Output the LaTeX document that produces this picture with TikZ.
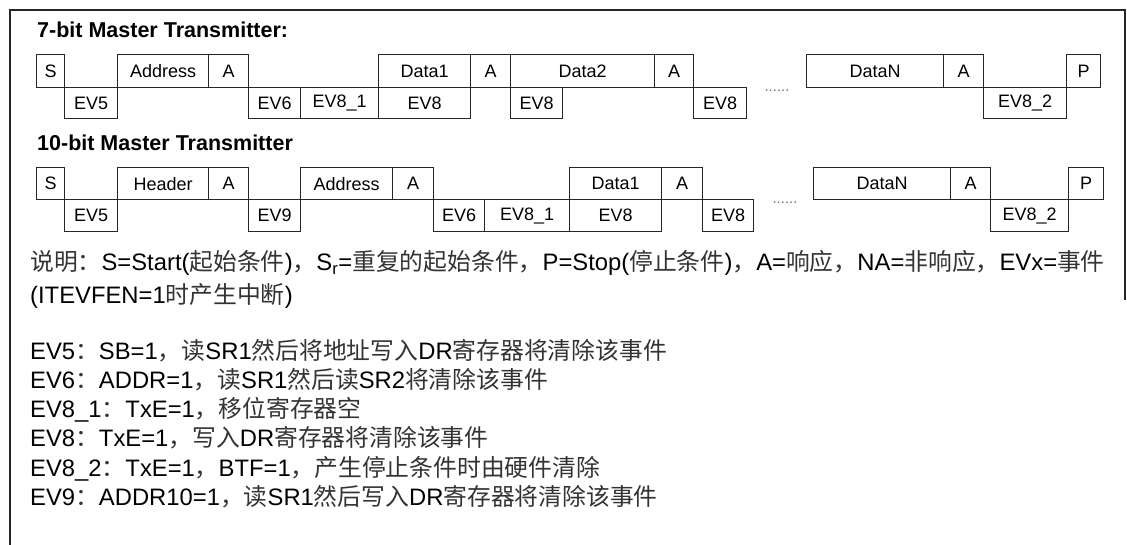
\documentclass[tikz,border=0pt]{standalone}
\usepackage{fontspec}
\setmainfont{Liberation Sans}
\newfontfamily\cjk{Noto Sans CJK SC}
\newcommand{\zh}[1]{{\cjk\color{black!80}#1}}

\tikzset{
    cell/.style={draw=black!85, line width=1.3pt, anchor=north west, inner sep=0pt,
        minimum width=#1, font=\fontsize{18}{18}\selectfont},
    master/.style={cell=#1, minimum height=33pt},
    event/.style={cell=#1, minimum height=31pt},
    title/.style={anchor=base west, inner sep=0pt, font=\fontsize{21.5}{21.5}\selectfont\bfseries},
    note/.style={anchor=base west, inner sep=0pt, font=\fontsize{23.8}{23.8}\selectfont},
    dots/.style={anchor=base, inner sep=0pt, text=black!55, font=\fontsize{15}{15}\selectfont}
}

\begin{document}
\begin{tikzpicture}[x=1pt,y=-1pt]
    \useasboundingbox (0,0) rectangle (1127,545);
    \draw[line width=1.6pt, black!85] (10,545)--(10,10)--(1125,10)--(1125,300);

    % 7-bit
    \node[title] (t7) at (37,38) {7-bit Master Transmitter:};
    \node[master=28] (s1) at (36,54) {S};
    \node[event=53] (ev5a) at (64,87) {EV5};
    \node[master=91] (adr1) at (117,54) {Address};
    \node[master=40] (ack1) at (208,54) {A};
    \node[event=52] (ev6a) at (248,87) {EV6};
    \node[event=78] (ev81a) at (300,87) {EV8\_1};
    \node[master=92] (dat1) at (378,54) {Data1};
    \node[event=92] (ev8a) at (378,87) {EV8};
    \node[master=40] (ack2) at (470,54) {A};
    \node[master=144] (dat2) at (510,54) {Data2};
    \node[event=52] (ev8b) at (510,87) {EV8};
    \node[master=39] (ack3) at (654,54) {A};
    \node[event=53] (ev8c) at (693,87) {EV8};
    \node[dots] (dt1) at (777,92) {......};
    \node[master=137] (datn1) at (806,54) {DataN};
    \node[master=40] (ack4) at (943,54) {A};
    \node[event=83] (ev82a) at (983,87) {EV8\_2};
    \node[master=34] (p1) at (1066,54) {P};

    % 10-bit
    \node[title] (t10) at (37,151) {10-bit Master Transmitter};
    \node[master=28, minimum height=32pt] (s2) at (36,167) {S};
    \node[event=53, minimum height=32pt] (ev5b) at (64,199) {EV5};
    \node[master=91, minimum height=32pt] (hdr2) at (117,167) {Header};
    \node[master=40, minimum height=32pt] (ack5) at (208,167) {A};
    \node[event=52, minimum height=32pt] (ev9b) at (248,199) {EV9};
    \node[master=92, minimum height=32pt] (adr2) at (300,167) {Address};
    \node[master=41, minimum height=32pt] (ack6) at (392,167) {A};
    \node[event=51, minimum height=32pt] (ev6b) at (433,199) {EV6};
    \node[event=85, minimum height=32pt] (ev81b) at (484,199) {EV8\_1};
    \node[master=92, minimum height=32pt] (dat3) at (569,167) {Data1};
    \node[event=92, minimum height=32pt] (ev8d) at (569,199) {EV8};
    \node[master=41, minimum height=32pt] (ack7) at (661,167) {A};
    \node[event=51, minimum height=32pt] (ev8e) at (702,199) {EV8};
    \node[dots] (dt2) at (785,204) {......};
    \node[master=137, minimum height=32pt] (datn2) at (813,167) {DataN};
    \node[master=40, minimum height=32pt] (ack8) at (950,167) {A};
    \node[event=78, minimum height=32pt] (ev82b) at (990,199) {EV8\_2};
    \node[master=35, minimum height=32pt] (p2) at (1068,167) {P};

    % notes
    \node[note] (n1) at (30,271) {\zh{说明：}S=Start(\zh{起始条件})\zh{，}S\textsubscript{r}=\zh{重复的起始条件，}P=Stop(\zh{停止条件})\zh{，}A=\zh{响应，}NA=\zh{非响应，}EVx=\zh{事件}};
    \node[note] (n2) at (30,304) {(ITEVFEN=1\zh{时产生中断})};
    \node[note] (n3) at (30,359) {EV5\zh{：}SB=1\zh{，读}SR1\zh{然后将地址写入}DR\zh{寄存器将清除该事件}};
    \node[note] (n4) at (30,388) {EV6\zh{：}ADDR=1\zh{，读}SR1\zh{然后读}SR2\zh{将清除该事件}};
    \node[note] (n5) at (30,417) {EV8\_1\zh{：}TxE=1\zh{，移位寄存器空}};
    \node[note] (n6) at (30,446) {EV8\zh{：}TxE=1\zh{，写入}DR\zh{寄存器将清除该事件}};
    \node[note] (n7) at (30,476) {EV8\_2\zh{：}TxE=1\zh{，}BTF=1\zh{，产生停止条件时由硬件清除}};
    \node[note] (n8) at (30,505) {EV9\zh{：}ADDR10=1\zh{，读}SR1\zh{然后写入}DR\zh{寄存器将清除该事件}};
\end{tikzpicture}
\end{document}
